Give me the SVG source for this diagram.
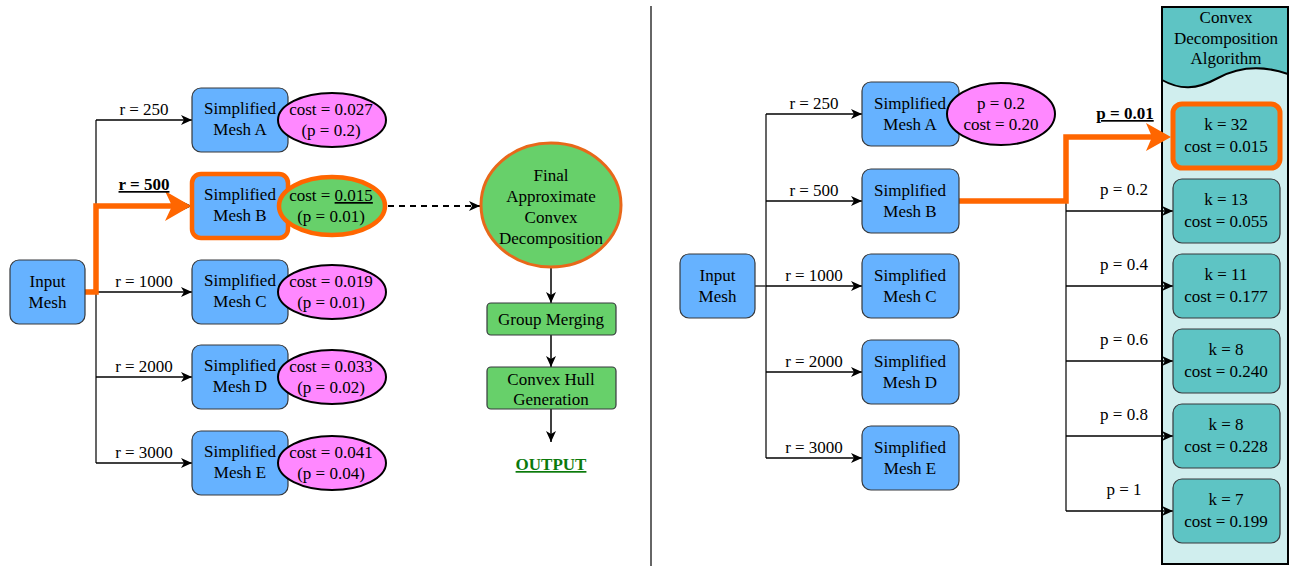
<svg xmlns="http://www.w3.org/2000/svg" width="1289" height="566" viewBox="0 0 1289 566">
<style>
text{font-family:"Liberation Serif","Times New Roman",serif;font-size:17px;fill:#000;text-anchor:middle}
.mesh{fill:#66B2FF;stroke:#36393d;stroke-width:1.2}
.pink{fill:#FF88FF;stroke:#000;stroke-width:2}
.green{fill:#67D06A;stroke:#36393d;stroke-width:1.2}
.kbox{fill:#5EC4C4;stroke:#36393d;stroke-width:1.2}
.ln{fill:none;stroke:#333;stroke-width:1.5}
.arr{fill:none;stroke:#000;stroke-width:1.5;marker-end:url(#ah)}
.or{fill:none;stroke:#FF6600;stroke-width:5.5}
.orh{fill:#FF6600}
.bu{font-weight:bold;text-decoration:underline}
</style>
<defs>
<marker id="ah" markerUnits="userSpaceOnUse" markerWidth="12" markerHeight="12" viewBox="0 0 12 12" refX="11" refY="6" orient="auto">
<path d="M0,1 L11,6 L0,11 L3,6 Z" fill="#000"/>
</marker>
</defs>
<rect width="1289" height="566" fill="#fff"/>
<line x1="651" y1="6" x2="651" y2="566" stroke="#333" stroke-width="1.5"/>

<!-- container (right) -->
<g id="container">
<rect x="1162" y="7" width="126" height="557" fill="#D0EEEE" stroke="#000" stroke-width="2"/>
<path d="M1162,7 H1288 V74 C1265,66 1240,66 1218,78 C1196,90 1180,90 1162,80 Z" fill="#5EC4C4" stroke="none"/>
<path d="M1288,74 C1265,66 1240,66 1218,78 C1196,90 1180,90 1162,80" fill="none" stroke="#000" stroke-width="2"/>
<rect x="1162" y="7" width="126" height="557" fill="none" stroke="#000" stroke-width="2"/>
<text x="1226" y="23">Convex</text>
<text x="1226" y="44">Decomposition</text>
<text x="1226" y="64">Algorithm</text>
</g>

<!-- connectors -->
<g id="connectors">
<!-- left -->
<path class="ln" d="M85,292 H96 M96,120 V463"/>
<line class="arr" x1="96" y1="120" x2="192" y2="120"/>
<line class="arr" x1="96" y1="206" x2="192" y2="206"/>
<line class="arr" x1="96" y1="292" x2="192" y2="292"/>
<line class="arr" x1="96" y1="377" x2="192" y2="377"/>
<line class="arr" x1="96" y1="463" x2="192" y2="463"/>
<path class="or" d="M85,292 H96 V206 H172"/>
<polygon class="orh" points="191,206 165,191 172,206 165,221"/>
<line x1="388" y1="206" x2="480" y2="206" stroke="#000" stroke-width="2" stroke-dasharray="6 5" marker-end="url(#ah)"/>
<line class="arr" x1="551" y1="268" x2="551" y2="303"/>
<line class="arr" x1="551" y1="335" x2="551" y2="367"/>
<line class="arr" x1="551" y1="409" x2="551" y2="442"/>
<!-- right -->
<path class="ln" d="M755,286 H766 M766,114 V458"/>
<line class="arr" x1="766" y1="114" x2="862" y2="114"/>
<line class="arr" x1="766" y1="201" x2="862" y2="201"/>
<line class="arr" x1="766" y1="286" x2="862" y2="286"/>
<line class="arr" x1="766" y1="372" x2="862" y2="372"/>
<line class="arr" x1="766" y1="458" x2="862" y2="458"/>
<path class="ln" d="M959,201 H1066 V511"/>
<line class="arr" x1="1066" y1="211" x2="1173" y2="211"/>
<line class="arr" x1="1066" y1="286" x2="1173" y2="286"/>
<line class="arr" x1="1066" y1="361" x2="1173" y2="361"/>
<line class="arr" x1="1066" y1="436" x2="1173" y2="436"/>
<line class="arr" x1="1066" y1="511" x2="1173" y2="511"/>
<path class="or" d="M959,201 H1066 V137 H1152"/>
<polygon class="orh" points="1171,137 1146,123 1152,137 1146,151"/>
<!-- labels -->
<text x="144" y="115">r = 250</text>
<text x="144" y="190" class="bu">r = 500</text>
<text x="144" y="287">r = 1000</text>
<text x="144" y="372">r = 2000</text>
<text x="144" y="458">r = 3000</text>
<text x="814" y="109">r = 250</text>
<text x="814" y="196">r = 500</text>
<text x="814" y="281">r = 1000</text>
<text x="814" y="367">r = 2000</text>
<text x="814" y="453">r = 3000</text>
<text x="1125" y="119" class="bu">p = 0.01</text>
<text x="1124" y="195">p = 0.2</text>
<text x="1124" y="270">p = 0.4</text>
<text x="1124" y="345">p = 0.6</text>
<text x="1124" y="420">p = 0.8</text>
<text x="1124" y="495">p = 1</text>
</g>

<!-- left nodes -->
<g id="l-input"><rect class="mesh" x="10" y="260" width="75" height="64" rx="9"/><text x="47.5" y="287">Input</text><text x="47.5" y="308">Mesh</text></g>
<g id="l-meshA"><rect class="mesh" x="192" y="88" width="96" height="64" rx="9"/><text x="240" y="114">Simplified</text><text x="240" y="135">Mesh A</text></g>
<g id="l-meshB"><rect class="mesh" x="192" y="174" width="96" height="64" rx="9" style="stroke:#FF6600;stroke-width:4.5"/><text x="240" y="200">Simplified</text><text x="240" y="221">Mesh B</text></g>
<g id="l-meshC"><rect class="mesh" x="192" y="260" width="96" height="64" rx="9"/><text x="240" y="286">Simplified</text><text x="240" y="307">Mesh C</text></g>
<g id="l-meshD"><rect class="mesh" x="192" y="345" width="96" height="64" rx="9"/><text x="240" y="371">Simplified</text><text x="240" y="392">Mesh D</text></g>
<g id="l-meshE"><rect class="mesh" x="192" y="431" width="96" height="64" rx="9"/><text x="240" y="457">Simplified</text><text x="240" y="478">Mesh E</text></g>
<g id="l-costA"><ellipse class="pink" cx="332" cy="120" rx="54" ry="27"/><text x="331" y="115">cost = 0.027</text><text x="331" y="136">(p = 0.2)</text></g>
<g id="l-costB"><ellipse cx="332" cy="206" rx="53" ry="29" fill="#67D06A" stroke="#FF6600" stroke-width="4.5"/><text x="331" y="201">cost = <tspan text-decoration="underline">0.015</tspan></text><text x="331" y="222">(p = 0.01)</text></g>
<g id="l-costC"><ellipse class="pink" cx="332" cy="292" rx="54" ry="27"/><text x="331" y="287">cost = 0.019</text><text x="331" y="308">(p = 0.01)</text></g>
<g id="l-costD"><ellipse class="pink" cx="332" cy="377" rx="54" ry="27"/><text x="331" y="372">cost = 0.033</text><text x="331" y="393">(p = 0.02)</text></g>
<g id="l-costE"><ellipse class="pink" cx="332" cy="463" rx="54" ry="27"/><text x="331" y="458">cost = 0.041</text><text x="331" y="479">(p = 0.04)</text></g>
<g id="final"><ellipse cx="551" cy="205" rx="70" ry="62" fill="#67D06A" stroke="#E8681A" stroke-width="3"/><text x="551" y="181">Final</text><text x="551" y="202">Approximate</text><text x="551" y="223">Convex</text><text x="551" y="244">Decomposition</text></g>
<g id="merge"><rect class="green" x="487" y="303" width="129" height="32" rx="4"/><text x="551" y="325">Group Merging</text></g>
<g id="hull"><rect class="green" x="487" y="367" width="129" height="42" rx="4"/><text x="551" y="385">Convex Hull</text><text x="551" y="405">Generation</text></g>
<g id="output"><text x="551" y="470" class="bu" style="fill:#0B7A0B">OUTPUT</text></g>

<!-- right nodes -->
<g id="r-input"><rect class="mesh" x="680" y="254" width="75" height="64" rx="9"/><text x="717.5" y="281">Input</text><text x="717.5" y="302">Mesh</text></g>
<g id="r-meshA"><rect class="mesh" x="862" y="82" width="97" height="64" rx="9"/><text x="910" y="109">Simplified</text><text x="910" y="130">Mesh A</text></g>
<g id="r-meshB"><rect class="mesh" x="862" y="169" width="97" height="64" rx="9"/><text x="910" y="196">Simplified</text><text x="910" y="217">Mesh B</text></g>
<g id="r-meshC"><rect class="mesh" x="862" y="254" width="97" height="64" rx="9"/><text x="910" y="281">Simplified</text><text x="910" y="302">Mesh C</text></g>
<g id="r-meshD"><rect class="mesh" x="862" y="340" width="97" height="64" rx="9"/><text x="910" y="367">Simplified</text><text x="910" y="388">Mesh D</text></g>
<g id="r-meshE"><rect class="mesh" x="862" y="426" width="97" height="64" rx="9"/><text x="910" y="453">Simplified</text><text x="910" y="474">Mesh E</text></g>
<g id="r-costA"><ellipse class="pink" cx="1001" cy="114" rx="54" ry="31"/><text x="1001" y="109">p = 0.2</text><text x="1001" y="130">cost = 0.20</text></g>
<g id="k32"><rect class="kbox" x="1173" y="104" width="107" height="64" rx="9" style="stroke:#FF6600;stroke-width:5"/><text x="1226" y="130">k = 32</text><text x="1226" y="152">cost = 0.015</text></g>
<g id="k13"><rect class="kbox" x="1173" y="179" width="107" height="64" rx="9"/><text x="1226" y="205">k = 13</text><text x="1226" y="227">cost = 0.055</text></g>
<g id="k11"><rect class="kbox" x="1173" y="254" width="107" height="64" rx="9"/><text x="1226" y="280">k = 11</text><text x="1226" y="302">cost = 0.177</text></g>
<g id="k8a"><rect class="kbox" x="1173" y="329" width="107" height="64" rx="9"/><text x="1226" y="355">k = 8</text><text x="1226" y="377">cost = 0.240</text></g>
<g id="k8b"><rect class="kbox" x="1173" y="404" width="107" height="64" rx="9"/><text x="1226" y="430">k = 8</text><text x="1226" y="452">cost = 0.228</text></g>
<g id="k7"><rect class="kbox" x="1173" y="479" width="107" height="64" rx="9"/><text x="1226" y="505">k = 7</text><text x="1226" y="527">cost = 0.199</text></g>
</svg>
